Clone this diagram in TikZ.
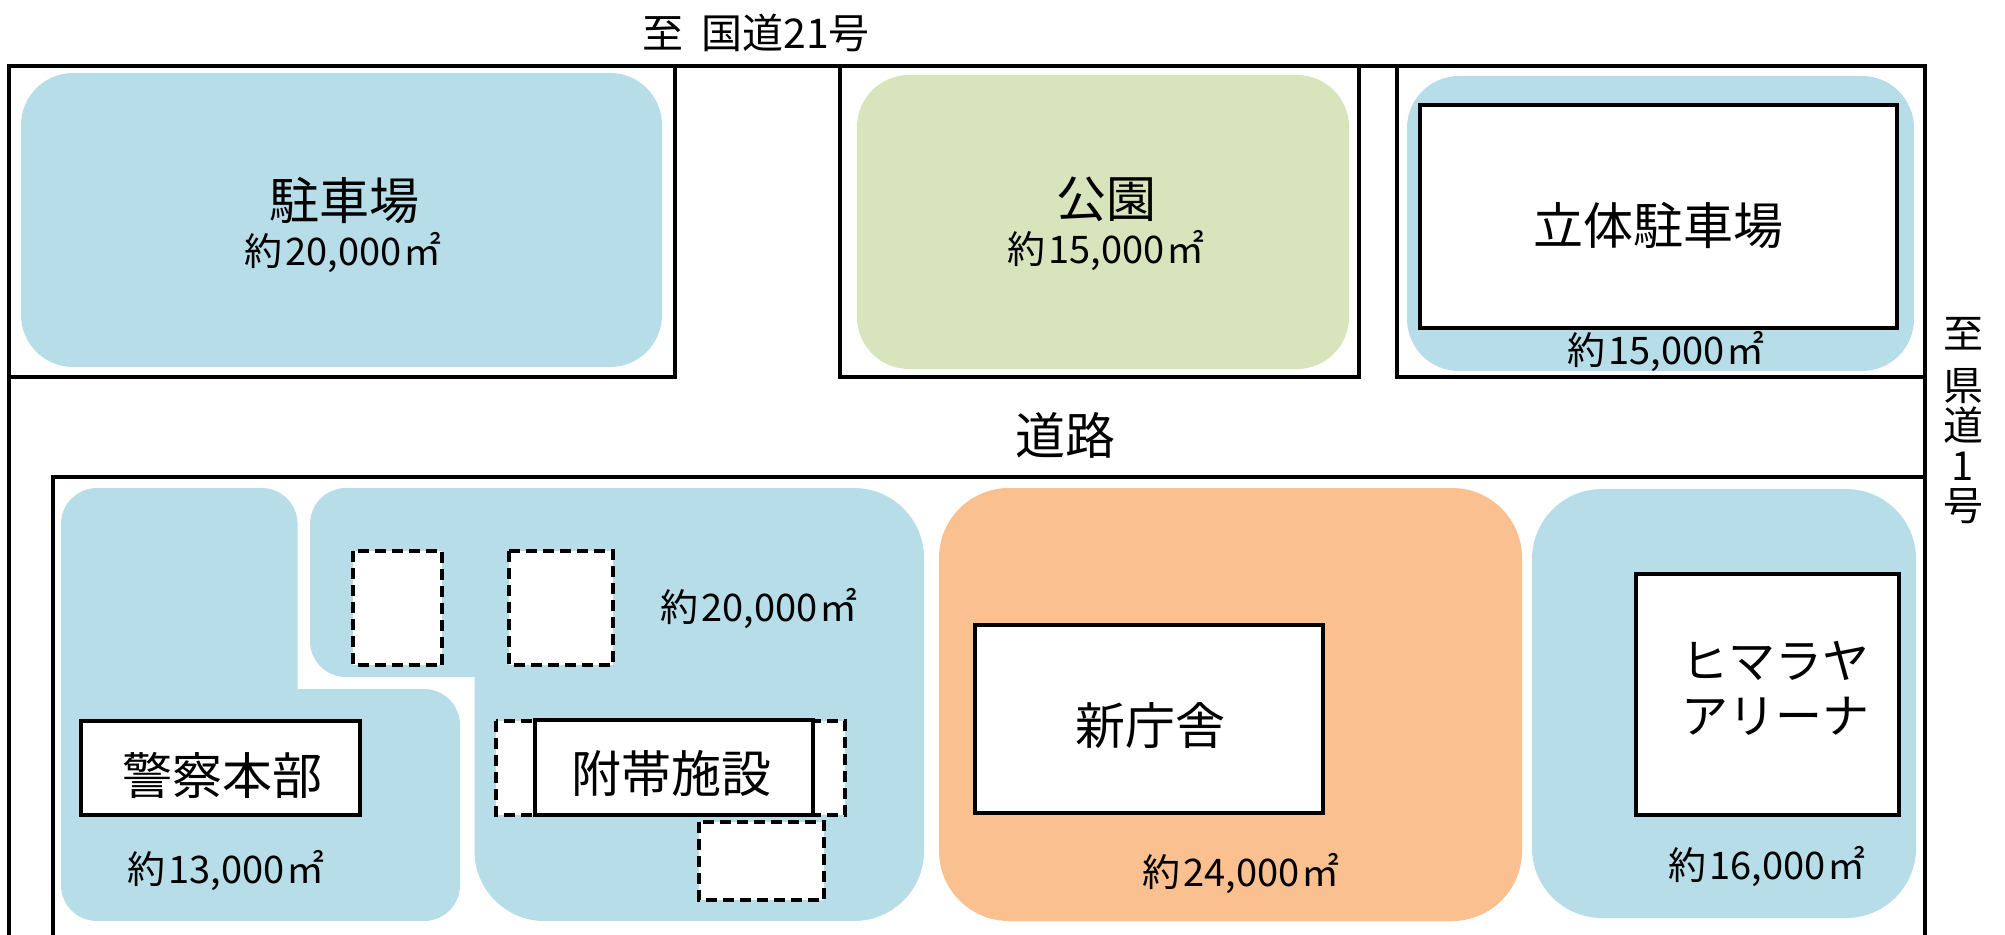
\documentclass[tikz,border=0pt]{standalone}
\usepackage{fontspec}
\setmainfont{Noto Sans CJK JP}
\newcommand{\areatxt}[1]{約\kern1.5pt #1\kern1pt ㎡}
\definecolor{lotblue}{HTML}{B7DDE8}
\definecolor{lotgreen}{HTML}{D8E4BC}
\definecolor{lotorange}{HTML}{FAC090}
\tikzset{
  wall/.style={draw=black,line width=2pt,line cap=rect},
  building/.style={draw=black,fill=white,line width=2pt},
  planned/.style={draw=black,fill=white,line width=2pt,dash pattern=on 5.5pt off 3pt},
  bigtext/.style={inner sep=0pt,font=\fontsize{25pt}{30pt}\selectfont},
  kanatext/.style={inner sep=0pt,font=\fontsize{23.5pt}{30pt}\selectfont},
  smalltext/.style={inner sep=0pt,font=\fontsize{19pt}{22pt}\selectfont},
  roadtext/.style={inner sep=0pt,font=\fontsize{20.5pt}{24pt}\selectfont},
  sidetext/.style={inner sep=0pt,font=\fontsize{20pt}{20pt}\selectfont},
}
\begin{document}
\begin{tikzpicture}[x=0.5pt,y=-0.5pt]
\useasboundingbox (0,0) rectangle (2005,935);
% lots
\fill[lotblue,rounded corners=26pt] (21,73) rectangle (662,367);
\fill[lotgreen,rounded corners=26pt] (857,75) rectangle (1349,369);
\fill[lotblue,rounded corners=26pt] (1407,76) rectangle (1914,371);
\fill[lotblue] (297.6,689) [rounded corners=18pt] -- (297.6,488) -- (61,488) -- (61,921) -- (460,921) -- (460,689) [sharp corners] -- cycle;
\fill[lotblue] (474.5,677) [rounded corners=18pt] -- (310,677) -- (310,488) [rounded corners=35pt] -- (924,488) -- (924,921) -- (474.5,921) [sharp corners] -- cycle;
\fill[lotorange,rounded corners=35pt] (939,488) rectangle (1522,921);
\fill[lotblue,rounded corners=35pt] (1532,489) rectangle (1916,918);
% roads
\draw[wall] (9,935) -- (9,66) -- (1925,66) -- (1925,935);
\draw[wall] (9,377) -- (675,377) -- (675,66);
\draw[wall] (840,66) -- (840,377) -- (1359,377) -- (1359,66);
\draw[wall] (1397,66) -- (1397,377) -- (1925,377);
\draw[wall] (53,935) -- (53,477) -- (1925,477);
% buildings
\draw[building] (1420,105) rectangle (1897,328);
\draw[planned] (352.5,551) rectangle (442,665);
\draw[planned] (509,551) rectangle (613,665);
\draw[planned] (496,721) rectangle (845,815);
\draw[planned] (699,822) rectangle (824,900);
\draw[building] (81,721) rectangle (360,815);
\draw[building] (534.5,720) rectangle (813,815);
\draw[building] (975,625) rectangle (1323,813);
\draw[building] (1636,574) rectangle (1899,815);
% labels
\node[roadtext] (northroad) at (756,33) {至\ \ 国道21号};
\node[bigtext] (roadname) at (1065,435) {道路};
\node[sidetext,align=center] (eastroad) at (1963,421) {至\\[6pt]県\\道\\1\\号};
\node[bigtext] (parkinga) at (344,201) {駐車場};
\node[smalltext] (parkingaarea) at (343,253) {\areatxt{20,000}};
\node[bigtext] (park) at (1106,199) {公園};
\node[smalltext] (parkarea) at (1106,251) {\areatxt{15,000}};
\node[bigtext] (parkingb) at (1658,226) {立体駐車場};
\node[smalltext] (parkingbarea) at (1666,352) {\areatxt{15,000}};
\node[smalltext] (annexarea) at (759,609) {\areatxt{20,000}};
\node[bigtext] (police) at (222,775) {警察本部};
\node[smalltext] (policearea) at (226,871) {\areatxt{13,000}};
\node[bigtext] (annex) at (671,773) {附帯施設};
\node[bigtext] (office) at (1150,726) {新庁舎};
\node[smalltext] (officearea) at (1241,874) {\areatxt{24,000}};
\node[kanatext] (arenaa) at (1775,661) {ヒマラヤ};
\node[kanatext] (arenab) at (1775,716) {アリーナ};
\node[smalltext] (arenaarea) at (1767,867) {\areatxt{16,000}};
\end{tikzpicture}
\end{document}
